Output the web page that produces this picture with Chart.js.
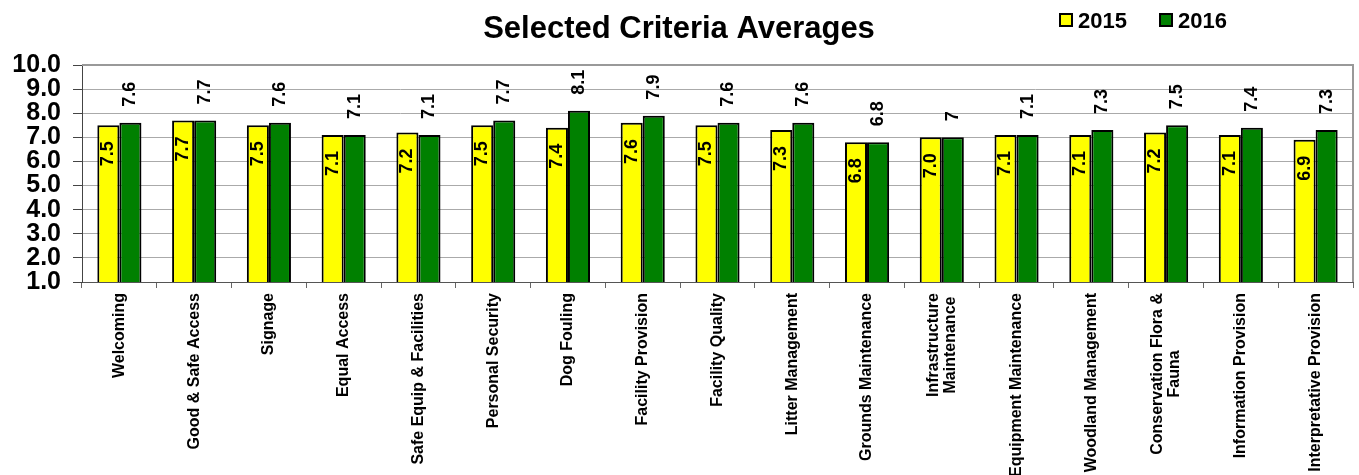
<!DOCTYPE html>
<html>
<head>
<meta charset="utf-8">
<script src="https://cdn.jsdelivr.net/npm/chart.js@4"></script>
<style>
    body { margin: 0; background: #fff; }
    #wrap { width: 1359px; height: 475px; position: relative; }
</style>
</head>
<body>
<div id="wrap"><canvas id="criteria-chart"></canvas></div>
<script>
const categories = [
    'Welcoming', 'Good & Safe Access', 'Signage', 'Equal Access', 'Safe Equip & Facilities',
    'Personal Security', 'Dog Fouling', 'Facility Provision', 'Facility Quality', 'Litter Management',
    'Grounds Maintenance', ['Infrastructure', 'Maintenance'], 'Equipment Maintenance', 'Woodland Management',
    ['Conservation Flora &', 'Fauna'], 'Information Provision', 'Interpretative Provision'
];
const seriesNames = ['2015', '2016'];
const values2015 = [7.5, 7.7, 7.5, 7.1, 7.2, 7.5, 7.4, 7.6, 7.5, 7.3, 6.8, 7.0, 7.1, 7.1, 7.2, 7.1, 6.9];
const values2016 = [7.6, 7.7, 7.6, 7.1, 7.1, 7.7, 8.1, 7.9, 7.6, 7.6, 6.8, 7, 7.1, 7.3, 7.5, 7.4, 7.3];
const yTicks = [1, 2, 3, 4, 5, 6, 7, 8, 9, 10];
const chartTitle = 'Selected Criteria Averages';

document.addEventListener('DOMContentLoaded', () => {
    const FONT = "'Liberation Sans', Arial, sans-serif";
    const colors = ['#ffff00', '#008000'];

    // value labels: 2015 inside the top of the bar, 2016 above it
    const barLabels = {
        id: 'barLabels',
        afterDatasetsDraw(chart) {
            const ctx = chart.ctx;
            ctx.save();
            ctx.fillStyle = '#000';
            ctx.font = `bold 18px ${FONT}`;
            ctx.textBaseline = 'middle';
            chart.data.datasets.forEach((ds, di) => {
                const meta = chart.getDatasetMeta(di);
                meta.data.forEach((bar, i) => {
                    const v = ds.data[i];
                    const text = di === 0 ? v.toFixed(1) : String(v);
                    ctx.save();
                    if (di === 0) {
                        ctx.translate(bar.x, bar.y + 16);
                        ctx.rotate(-Math.PI / 2);
                        ctx.textAlign = 'right';
                    } else {
                        ctx.translate(bar.x, bar.y - 16);
                        ctx.rotate(-Math.PI / 2);
                        ctx.textAlign = 'left';
                    }
                    ctx.fillText(text, 0, 0);
                    ctx.restore();
                });
            });
            ctx.restore();
        }
    };

    // vertical category labels, lines of a wrapped label centred on each other
    const categoryLabels = {
        id: 'categoryLabels',
        afterDraw(chart) {
            const ctx = chart.ctx;
            const xScale = chart.scales.x;
            const top = chart.chartArea.bottom + 11;
            const lineGap = 17;
            ctx.save();
            ctx.fillStyle = '#000';
            ctx.font = `bold 16px ${FONT}`;
            ctx.textBaseline = 'middle';
            ctx.textAlign = 'center';
            chart.data.labels.forEach((label, i) => {
                const lines = Array.isArray(label) ? label : [label];
                const widths = lines.map(l => ctx.measureText(l).width);
                const maxW = Math.max(...widths);
                const cx = xScale.getPixelForTick(i);
                lines.forEach((line, li) => {
                    const x = cx + (li - (lines.length - 1) / 2) * lineGap;
                    ctx.save();
                    ctx.translate(x, top + maxW / 2);
                    ctx.rotate(-Math.PI / 2);
                    ctx.fillText(line, 0, 0);
                    ctx.restore();
                });
            });
            ctx.restore();
        }
    };

    // title, legend and the grey frame on top/right of the plot
    const decorations = {
        id: 'decorations',
        afterDraw(chart) {
            const ctx = chart.ctx;
            const area = chart.chartArea;
            ctx.save();
            ctx.strokeStyle = '#999';
            ctx.lineWidth = 2;
            ctx.beginPath();
            ctx.moveTo(area.left, area.top);
            ctx.lineTo(area.right, area.top);
            ctx.lineTo(area.right, area.bottom);
            ctx.stroke();

            ctx.fillStyle = '#000';
            ctx.font = `bold 31px ${FONT}`;
            ctx.textAlign = 'center';
            ctx.textBaseline = 'alphabetic';
            ctx.fillText(chartTitle, 679, 38);

            const legendX = [1060, 1160];
            ctx.font = `bold 22px ${FONT}`;
            ctx.textAlign = 'left';
            seriesNames.forEach((name, i) => {
                ctx.fillStyle = colors[i];
                ctx.fillRect(legendX[i], 14, 12, 12);
                ctx.strokeStyle = '#000';
                ctx.lineWidth = 2;
                ctx.strokeRect(legendX[i], 14, 12, 12);
                ctx.fillStyle = '#000';
                ctx.fillText(name, legendX[i] + 18, 28);
            });
            ctx.restore();
        }
    };

    const ctx = document.getElementById('criteria-chart').getContext('2d');
    new Chart(ctx, {
        type: 'bar',
        data: {
            labels: categories,
            datasets: [values2015, values2016].map((vals, i) => ({
                label: seriesNames[i],
                data: vals,
                backgroundColor: colors[i],
                borderColor: '#000',
                borderWidth: 2,
                borderSkipped: false,
                categoryPercentage: 0.59,
                barPercentage: 1.0
            }))
        },
        options: {
            responsive: true,
            maintainAspectRatio: false,
            animation: false,
            layout: { padding: { top: 65, right: 6, left: 0, bottom: 0 } },
            plugins: {
                legend: { display: false },
                title: { display: false },
                tooltip: { enabled: false }
            },
            scales: {
                x: {
                    afterFit: scale => { scale.height = 193; },
                    grid: {
                        drawOnChartArea: false,
                        offset: true,
                        tickLength: 6,
                        color: '#666'
                    },
                    border: { color: '#555', width: 1 },
                    ticks: { display: false, autoSkip: false }
                },
                y: {
                    min: yTicks[0],
                    max: yTicks[yTicks.length - 1],
                    afterFit: scale => { scale.width = 82; },
                    afterBuildTicks: scale => { scale.ticks = yTicks.map(v => ({ value: v })); },
                    grid: {
                        color: '#aaa',
                        tickColor: '#444',
                        tickLength: 9
                    },
                    border: { color: '#444', width: 1 },
                    ticks: {
                        autoSkip: false,
                        padding: 12,
                        color: '#000',
                        font: { family: FONT, size: 25, weight: 'bold', lineHeight: 1 },
                        callback: v => v.toFixed(1)
                    }
                }
            }
        },
        plugins: [barLabels, categoryLabels, decorations]
    });
});
</script>
</body>
</html>
